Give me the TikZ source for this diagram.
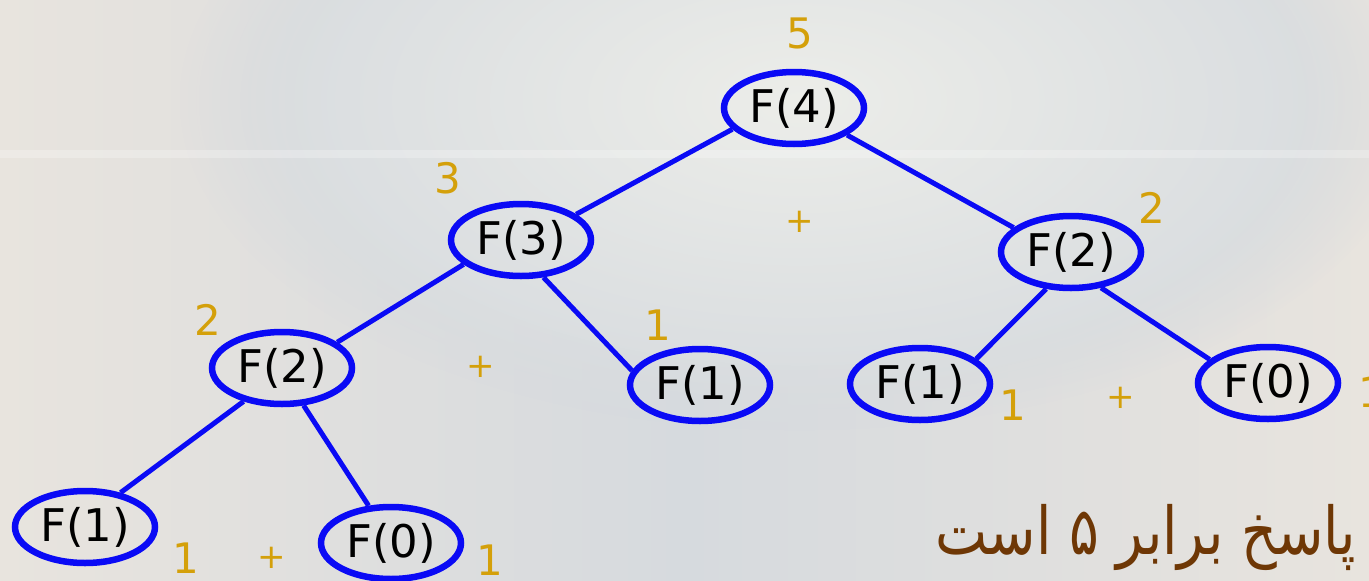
\documentclass[tikz,border=0pt]{standalone}
\usepackage{fontspec}
\setmainfont{DejaVu Sans}
\newfontfamily\arabicfont[Script=Arabic]{DejaVu Sans}
\TeXXeTstate=1
\usetikzlibrary{shapes.geometric,fadings}
\definecolor{nodeblue}{RGB}{10,10,245}
\definecolor{gold}{RGB}{212,160,10}
\definecolor{brownt}{RGB}{110,55,5}
\definecolor{bgmid}{RGB}{214,218,222}
\definecolor{bgleft}{RGB}{232,228,222}
\definecolor{bglight}{RGB}{236,237,233}
\tikzset{
  fnode/.style={ellipse, draw=nodeblue, line width=6.5pt, minimum width=140pt, minimum height=72pt, inner sep=0pt, font=\fontsize{45}{45}\selectfont, text=black},
  edge/.style={draw=nodeblue, line width=5pt},
  val/.style={text=gold, font=\fontsize{42}{42}\selectfont, inner sep=0pt},
  plus/.style={text=gold, font=\fontsize{34}{34}\selectfont, inner sep=0pt}
}
\begin{document}
\begin{tikzpicture}[x=1pt,y=-1pt]
\useasboundingbox (0,0) rectangle (1369,581);
\clip (0,0) rectangle (1369,581);
\shade[left color=bgleft, right color=bgleft, middle color=bgmid] (0,0) rectangle (1369,581);
\shade[inner color=bglight, outer color=bgmid, path fading=circle with fuzzy edge 20 percent] (800,100) ellipse (620 and 330);
\fill[white, opacity=0.25] (0,150) rectangle (1369,158);

\node[fnode] (F4) at (794,108) {F(4)};
\node[fnode] (F3) at (521,240) {F(3)};
\node[fnode] (F2r) at (1071,252) {F(2)};
\node[fnode] (F2l) at (282,368) {F(2)};
\node[fnode] (F1m) at (700,385) {F(1)};
\node[fnode] (F1r) at (920,384) {F(1)};
\node[fnode] (F0r) at (1268,383) {F(0)};
\node[fnode] (F1b) at (85,527) {F(1)};
\node[fnode] (F0b) at (391,543) {F(0)};

\draw[edge] (F4.199) -- (F3.25);
\draw[edge] (F4.333) -- (F2r.157);
\draw[edge] (F3.203) -- (F2l.25);
\draw[edge] (F3.301) -- (F1m.168);
\draw[edge] (F2r.236) -- (F1r.24);
\draw[edge] (F2r.310) -- (F0r.158);
\draw[edge] (F2l.221) -- (F1b.44);
\draw[edge] (F2l.300) -- (F0b.121);

\node[val] (v5) at (800,33) {5};
\node[val] (v3) at (448,178) {3};
\node[plus] (p1) at (800,222) {+};
\node[val] (v2r) at (1152,208) {2};
\node[val] (v2l) at (208,320) {2};
\node[plus] (p2) at (481,367) {+};
\node[val] (v1m) at (658,325) {1};
\node[val] (v1r) at (1013,405) {1};
\node[plus] (p3) at (1121,398) {+};
\node[val] (v1rr) at (1372,392) {1};
\node[val] (v1b) at (186,558) {1};
\node[plus] (p4) at (272,558) {+};
\node[val] (v1c) at (490,560) {1};

\node[anchor=west, text=brownt, inner sep=0pt, xscale=0.84, transform shape, font=\arabicfont\fontsize{66}{66}\selectfont] (ans) at (935,537) {\beginR پاسخ برابر ۵ است\endR};
\end{tikzpicture}
\end{document}
